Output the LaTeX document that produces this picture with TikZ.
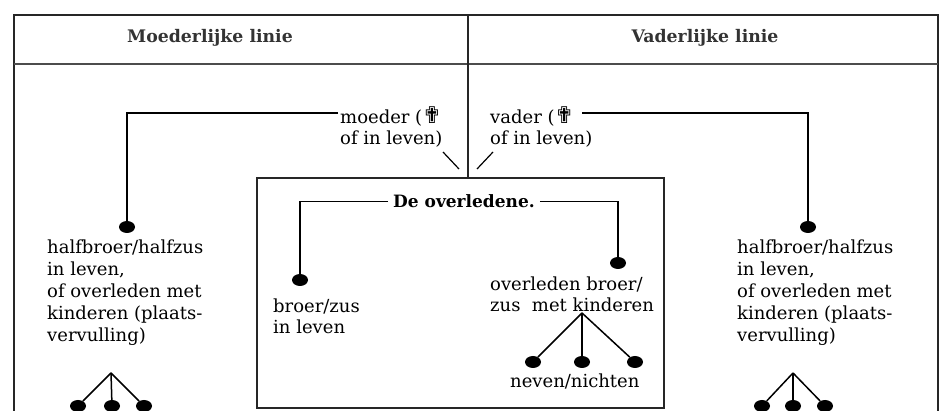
\documentclass[tikz,border=0pt]{standalone}
\usepackage{fontspec}
\setmainfont{DejaVu Serif}
\newfontfamily\symfont{DejaVu Sans}
\newcommand{\crossmark}{{\symfont\fontsize{23}{23}\selectfont ✟}}
\usetikzlibrary{shapes.geometric}
\begin{document}
\begin{tikzpicture}[x=1pt,y=-1pt,
  frame/.style={line width=2pt, draw=black!85},
  conn/.style={line width=1.5pt, draw=black},
  blob/.style={ellipse, fill=black, minimum width=16pt, minimum height=12pt, inner sep=0pt},
  body/.style={font=\fontsize{18}{21.8}\selectfont, inner sep=0pt, anchor=base west, align=left},
  head/.style={font=\bfseries\fontsize{17.3}{20}\selectfont, text=black!80, inner sep=0pt, anchor=base},
  title/.style={font=\bfseries\fontsize{17}{20}\selectfont, inner sep=0pt, anchor=base},
]
\useasboundingbox (0,0) rectangle (943,411);
\fill[white] (0,0) rectangle (943,411);

% frame
\draw[frame] (13.5,411) -- (13.5,15) -- (938,15) -- (938,411);
\draw[line width=2.5pt, draw=black!70] (13.5,64) -- (938,64);
\draw[frame] (468,15) -- (468,178);
\draw[frame] (257,178) rectangle (664,408);

% headers
\node[head] (hm) at (210,43) {Moederlijke linie};
\node[head] (hv) at (705,43) {Vaderlijke linie};

% parents (base anchor = baseline of last line)
\node[body] (mo) at (340,145) {moeder (\crossmark\\of in leven)};
\node[body] (va) at (490,145) {vader (\crossmark\\of in leven)};
\coordinate (moL) at (338,113);
\coordinate (vaR) at (582,113);
\coordinate (s1a) at (443,152);
\coordinate (s1b) at (459,169);
\coordinate (s2a) at (477,169);
\coordinate (s2b) at (493,152);
\draw[line width=1.2pt] (s1a) -- (s1b);
\draw[line width=1.2pt] (s2a) -- (s2b);

% half siblings
\node[blob] (dl) at (127,227) {};
\node[blob] (dr) at (808,227) {};
\draw[conn] (moL) -| (dl);
\draw[conn] (vaR) -| (dr);
\node[body] (hl) at (47,341.2) {halfbroer/halfzus\\in leven,\\of overleden met\\kinderen (plaats-\\vervulling)};
\node[body] (hr) at (737,341.2) {halfbroer/halfzus\\in leven,\\of overleden met\\kinderen (plaats-\\vervulling)};

% left tree
\coordinate (tl) at (111,373);
\node[blob] (tl1) at (78,406) {};
\node[blob] (tl2) at (112,406) {};
\node[blob] (tl3) at (144,406) {};
\draw[conn] (tl) -- (tl1);
\draw[conn] (tl) -- (tl2);
\draw[conn] (tl) -- (tl3);

% right tree
\coordinate (tr) at (793,373);
\node[blob] (tr1) at (762,406) {};
\node[blob] (tr2) at (793,406) {};
\node[blob] (tr3) at (825,406) {};
\draw[conn] (tr) -- (tr1);
\draw[conn] (tr) -- (tr2);
\draw[conn] (tr) -- (tr3);

% deceased
\node[title] (dov) at (464,208) {De overledene.};
\node[blob] (bz) at (300,280) {};
\node[blob] (ob) at (618,263) {};
\draw[conn] ([xshift=-5pt]dov.west) -| (bz);
\draw[conn] ([xshift=5pt]dov.east) -| (ob);
\node[body] (bzt) at (273,334) {broer/zus\\in leven};
\node[body] (obt) at (490,312) {overleden broer/\\zus\ \ met kinderen};

% cousins
\coordinate (tc) at (582,313);
\node[blob] (c1) at (533,362) {};
\node[blob] (c2) at (582,362) {};
\node[blob] (c3) at (635,362) {};
\draw[conn] (tc) -- (c1);
\draw[conn] (tc) -- (c2);
\draw[conn] (tc) -- (c3);
\node[body] (nn) at (510,388) {neven/nichten};
\end{tikzpicture}
\end{document}
